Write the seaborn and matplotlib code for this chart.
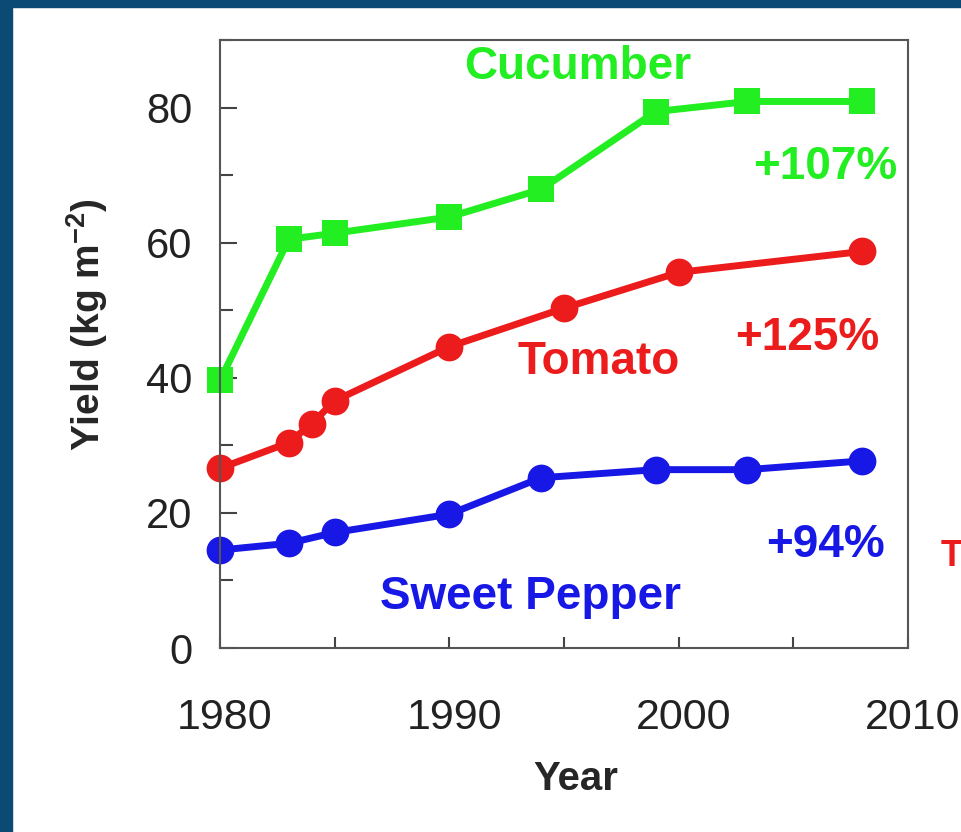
"""Greenhouse crop yield trends, 1980-2008."""

import matplotlib.pyplot as plt
import matplotlib.patches as mpatches
import matplotlib.transforms as mtransforms
from matplotlib.ticker import MultipleLocator
import pandas as pd
import seaborn as sns

# values
cucumber_years = [1980, 1983, 1985, 1990, 1994, 1999, 2003, 2008]
cucumber_yield = [39.6, 60.5, 61.4, 63.8, 67.9, 79.4, 80.9, 80.9]

tomato_years = [1980, 1983, 1984, 1985, 1990, 1995, 2000, 2008]
tomato_yield = [26.6, 30.4, 33.2, 36.6, 44.6, 50.3, 55.6, 58.7]

pepper_years = [1980, 1983, 1985, 1990, 1994, 1999, 2003, 2008]
pepper_yield = [14.5, 15.5, 17.1, 19.8, 25.2, 26.4, 26.4, 27.7]

GREEN = "#22ee22"
RED = "#ec1c1c"
BLUE = "#1818e6"
FRAME = "#0c4a76"

sns.set_style("ticks")
plt.rcParams["font.family"] = ["Liberation Sans", "DejaVu Sans"]
plt.rcParams["mathtext.fontset"] = "custom"
plt.rcParams["mathtext.bf"] = "Liberation Sans:bold"
plt.rcParams["mathtext.rm"] = "Liberation Sans:bold"
plt.rcParams["mathtext.default"] = "bf"

fig = plt.figure(figsize=(9.62, 8.32), dpi=100)
fig.patch.set_facecolor("white")
# dark slide frame on left and top
fig.patches.append(mpatches.Rectangle((0, 0), 12 / 962, 1, transform=fig.transFigure,
                                      color=FRAME, zorder=0))
fig.patches.append(mpatches.Rectangle((0, 1 - 7 / 832), 1, 7 / 832, transform=fig.transFigure,
                                      color=FRAME, zorder=0))

ax = fig.add_axes([220 / 962, 184 / 832, 688 / 962, 608 / 832])

series = [
    (cucumber_years, cucumber_yield, GREEN, "s", 19),
    (tomato_years, tomato_yield, RED, "o", 20),
    (pepper_years, pepper_yield, BLUE, "o", 20),
]
for years, vals, color, marker, msize in series:
    df = pd.DataFrame({"Year": years, "Yield": vals})
    sns.lineplot(data=df, x="Year", y="Yield", ax=ax, color=color, linewidth=5,
                 marker=marker, markersize=msize, markeredgewidth=0,
                 solid_joinstyle="round", solid_capstyle="round", clip_on=False)

ax.set_xlim(1980, 2010)
ax.set_ylim(0, 90)
ax.xaxis.set_major_locator(MultipleLocator(10))
ax.xaxis.set_minor_locator(MultipleLocator(5))
ax.yaxis.set_major_locator(MultipleLocator(20))
ax.yaxis.set_minor_locator(MultipleLocator(10))

for side in ["left", "bottom", "right", "top"]:
    ax.spines[side].set_color("#555555")
    ax.spines[side].set_linewidth(1.5)

ax.tick_params(axis="both", which="both", direction="in", color="#444444", width=1.5,
               labelcolor="#222222")
ax.tick_params(axis="y", which="major", length=12, pad=20, labelsize=30)
ax.tick_params(axis="y", which="minor", length=9)
ax.tick_params(axis="x", which="both", length=8, pad=36, labelsize=31)

# x tick labels sit a little right of their ticks in the reference
shift = mtransforms.ScaledTranslation(5 / 100, 0, fig.dpi_scale_trans)
for lbl in ax.get_xticklabels():
    lbl.set_transform(lbl.get_transform() + shift)

ax.set_xlabel("Year", fontsize=29, fontweight="bold")
ax.set_ylabel("Yield (kg m$^{-2}$)", fontsize=28, fontweight="bold")
ax.xaxis.set_label_coords((576 - 220) / 688, (648 - 760) / 608)
ax.yaxis.set_label_coords((110 - 220) / 688, (648 - 325) / 608)

# crop names and percentage changes
label_kw = dict(xycoords="figure pixels", fontweight="bold", ha="center", va="center",
                fontsize=33)
ax.annotate("Cucumber", xy=(578, 832 - 67), color=GREEN, **label_kw)
ax.annotate("+107%", xy=(825, 832 - 167), color=GREEN, **label_kw)
ax.annotate("Tomato", xy=(599, 832 - 362), color=RED, **label_kw)
ax.annotate("+125%", xy=(807, 832 - 338), color=RED, **label_kw)
ax.annotate("+94%", xy=(826, 832 - 545), color=BLUE, **label_kw)
ax.annotate("Sweet Pepper", xy=(530, 832 - 597), color=BLUE, **label_kw)
# letter at the right edge of the slide
ax.annotate("T", xy=(941, 832 - 556), xycoords="figure pixels", color=RED,
            fontsize=26, fontweight="bold", ha="left", va="center", annotation_clip=False)

fig.savefig("out.png", dpi=100)
